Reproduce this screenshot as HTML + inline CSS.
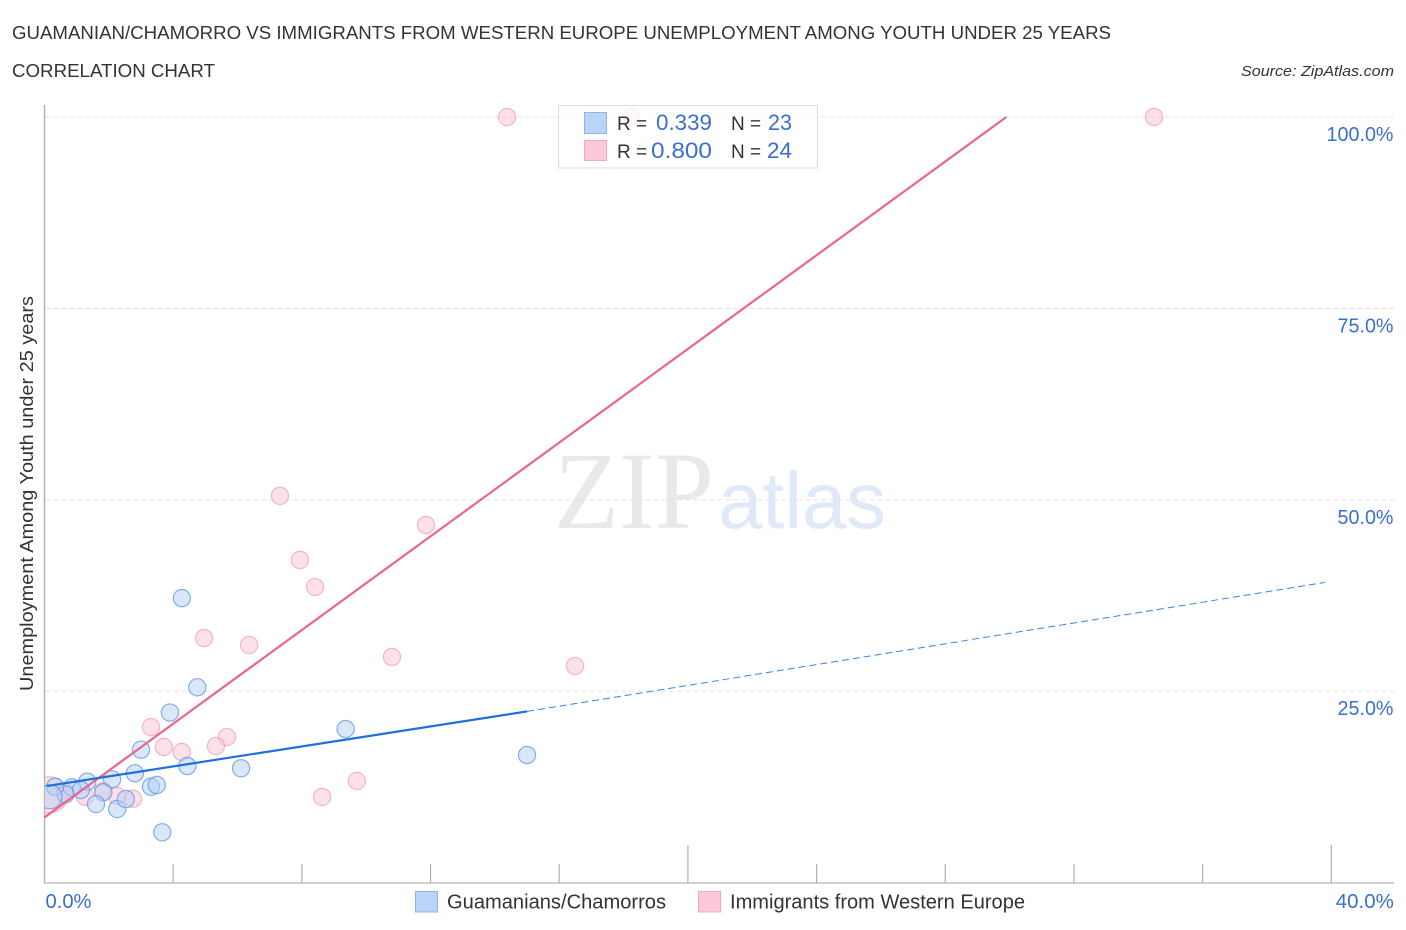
<!DOCTYPE html>
<html lang="en">
<head>
<meta charset="utf-8">
<title>Guamanian/Chamorro vs Immigrants from Western Europe Unemployment Among Youth Under 25 Years</title>
<style>
html,body{margin:0;padding:0;background:#fff;width:1406px;height:930px;overflow:hidden}
svg{display:block;font-family:"Liberation Sans",sans-serif}
</style>
</head>
<body>
<svg id="chart" width="1406" height="930" viewBox="0 0 1406 930" xmlns="http://www.w3.org/2000/svg">
  <defs>
    <clipPath id="plot-clip"><rect x="44.5" y="100" width="1350" height="783"/></clipPath>
  </defs>
  <text x="12" y="39" font-size="18" fill="#333" textLength="1099" lengthAdjust="spacingAndGlyphs">GUAMANIAN/CHAMORRO VS IMMIGRANTS FROM WESTERN EUROPE UNEMPLOYMENT AMONG YOUTH UNDER 25 YEARS</text>
  <text x="12" y="77" font-size="18" fill="#333" textLength="203" lengthAdjust="spacingAndGlyphs">CORRELATION CHART</text>
  <text x="1394" y="76" font-size="15" font-style="italic" fill="#333" text-anchor="end" textLength="153" lengthAdjust="spacingAndGlyphs">Source: ZipAtlas.com</text>

  <g>
    <text x="554" y="528" font-family="'Liberation Serif',serif" font-size="110" fill="#e9e9e9" textLength="160" lengthAdjust="spacingAndGlyphs">ZIP</text>
    <text x="718" y="528" font-family="'Liberation Sans',sans-serif" font-size="80" fill="#dfe9f8" textLength="168" lengthAdjust="spacingAndGlyphs">atlas</text>
  </g>

  <g id="grid"></g>
  <g id="axes"></g>
  <g id="points" clip-path="url(#plot-clip)"></g>
  <g id="trends"></g>
  <g id="labels"></g>

  <text transform="translate(33,493.5) rotate(-90)" font-size="18" fill="#333" text-anchor="middle" textLength="395" lengthAdjust="spacingAndGlyphs">Unemployment Among Youth under 25 years</text>

  <g>
    <rect x="558.5" y="105.5" width="259" height="62.5" fill="#fff" fill-opacity="0.8" stroke="#dcdcdc" stroke-width="1"/>
    <rect x="584.5" y="112.5" width="22" height="21" fill="#b9d4f7" stroke="#8fb3e8" stroke-width="1"/>
    <rect x="584.5" y="140.5" width="22" height="20" fill="#fcc9d8" stroke="#f2a8bf" stroke-width="1"/>
    <text x="617" y="130" font-size="19" fill="#333">R =</text>
    <text x="656" y="130" font-size="22" fill="#3a6fd0" textLength="56" lengthAdjust="spacingAndGlyphs">0.339</text>
    <text x="731" y="130" font-size="19" fill="#333">N =</text>
    <text x="768" y="130" font-size="22" fill="#3a6fd0" textLength="24" lengthAdjust="spacingAndGlyphs">23</text>
    <text x="617" y="158" font-size="19" fill="#333">R =</text>
    <text x="651" y="158" font-size="22" fill="#3a6fd0" textLength="61" lengthAdjust="spacingAndGlyphs">0.800</text>
    <text x="731" y="158" font-size="19" fill="#333">N =</text>
    <text x="767" y="158" font-size="22" fill="#3a6fd0" textLength="25" lengthAdjust="spacingAndGlyphs">24</text>
  </g>

  <g>
    <rect x="415.5" y="891.5" width="22" height="20.5" fill="#b9d4f7" stroke="#8fb3e8" stroke-width="1"/>
    <text x="447" y="908.5" font-size="20" fill="#333" textLength="219" lengthAdjust="spacingAndGlyphs">Guamanians/Chamorros</text>
    <rect x="698.5" y="891.5" width="22" height="20.5" fill="#fcc9d8" stroke="#f2a8bf" stroke-width="1"/>
    <text x="730" y="908.5" font-size="20" fill="#333" textLength="295" lengthAdjust="spacingAndGlyphs">Immigrants from Western Europe</text>
  </g>
</svg>
<script>
// Data, in percent units
const yTickValues = [25, 50, 75, 100];
const yTickLabels = ['25.0%', '50.0%', '75.0%', '100.0%'];
const xTickValues = [4, 8, 12, 16, 20, 24, 28, 32, 36, 40];
const xMajorTicks = [20, 40];
const xEdgeValues = [0, 40];
const xEdgeLabels = ['0.0%', '40.0%'];

const blueX = [4.75, 3.90, 3.00, 2.81, 2.10, 1.33, 0.85, 1.13, 0.65, 0.33, 0.17, 1.83, 1.60, 2.26, 2.53, 3.31, 3.49, 3.66, 4.44, 6.11, 9.36, 4.27, 15.0];
const blueY = [25.5, 22.2, 17.35, 14.27, 13.48, 13.17, 12.44, 12.08, 11.52, 12.51, 11.2, 11.78, 10.25, 9.6, 10.9, 12.51, 12.74, 6.56, 15.22, 14.92, 20.05, 37.15, 16.65];
const blueWeight = [1, 1, 1, 1, 1, 1, 1, 1, 1, 1, 1.4, 1, 1, 1, 1, 1, 1, 1, 1, 1, 1, 1, 1];

const pinkX = [14.38, 18.23, 34.49, 7.32, 11.86, 7.94, 8.41, 4.96, 6.36, 10.80, 16.49, 3.31, 5.67, 5.33, 4.27, 3.71, 9.71, 8.63, 2.75, 1.26, 2.25, 1.82, 0.64, 0.17];
const pinkY = [100, 100, 100, 50.5, 46.7, 42.13, 38.6, 31.94, 31.03, 29.46, 28.28, 20.31, 19.0, 17.83, 17.05, 17.7, 13.26, 11.17, 10.94, 11.2, 11.3, 11.95, 11.82, 11.45];
const pinkWeight = [1, 1, 1, 1, 1, 1, 1, 1, 1, 1, 1, 1, 1, 1, 1, 1, 1, 1, 1, 1, 1, 1, 1, 2.1];

// Trend lines: [start, end] in percent units
const blueTrendSolidX = [0.07, 15.0];
const blueTrendSolidY = [12.6, 22.35];
const blueTrendDashX = [15.0, 39.8];
const blueTrendDashY = [22.35, 39.2];
const pinkTrendX = [0, 29.9];
const pinkTrendY = [8.5, 100];

const NS = 'http://www.w3.org/2000/svg';
function xScale(v) { return 44.5 + v * 32.17; }
function yScale(v) { return 882.5 - v * 7.655; }
function mk(tag, attrs, parent) {
  const el = document.createElementNS(NS, tag);
  for (const k in attrs) el.setAttribute(k, attrs[k]);
  parent.appendChild(el);
  return el;
}

const grid = document.getElementById('grid');
const axes = document.getElementById('axes');
const labels = document.getElementById('labels');
const trends = document.getElementById('trends');
const points = document.getElementById('points');

yTickValues.forEach(function (v, i) {
  const line = mk('line', {x1: 45, x2: 1394, y1: yScale(v), y2: yScale(v), stroke: '#e3e3e3', 'stroke-width': 1, 'stroke-dasharray': '5 3'}, grid);
  
  
  const t = mk('text', {x: 1393.5, y: yScale(v) + 24, 'font-size': 20, fill: '#3a6fd0', 'text-anchor': 'end', textLength: yTickLabels[i].length === 6 ? 67 : 56, lengthAdjust: 'spacingAndGlyphs'}, labels);
  t.textContent = yTickLabels[i];
  
  
});

const yAxis = mk('line', {x1: 44.5, x2: 44.5, y1: 105, y2: 883.5, stroke: '#b0b0b0', 'stroke-width': 1.4}, axes);


const xAxis = mk('line', {x1: 44, x2: 1394, y1: 883, y2: 883, stroke: '#c0c0c0', 'stroke-width': 1.6}, axes);



xTickValues.forEach(function (v) {
  const isMajor = xMajorTicks.indexOf(v) >= 0;
  const tick = mk('line', {x1: xScale(v), x2: xScale(v), y1: isMajor ? 845 : 864, y2: 883, stroke: '#b0b0b0', 'stroke-width': 1.2}, axes);
  
  
});

xEdgeValues.forEach(function (v, i) {
  const t = mk('text', {x: i === 0 ? xScale(v) + 1 : xScale(v) + 62.5, y: 908, 'font-size': 20, fill: '#3a6fd0', 'text-anchor': i === 0 ? 'start' : 'end', textLength: i === 0 ? 46 : 58, lengthAdjust: 'spacingAndGlyphs'}, labels);
  t.textContent = xEdgeLabels[i];
  
  
});

function drawPoints(xs, ys, ws, fill, stroke, name) {
  xs.forEach(function (x, i) {
    const c = mk('circle', {cx: xScale(x), cy: yScale(ys[i]), r: 8.6 * ws[i], fill: fill, 'fill-opacity': 0.5, stroke: stroke, 'stroke-opacity': 0.75, 'stroke-width': 1.2}, points);
    
    
  });
}
drawPoints(pinkX, pinkY, pinkWeight, '#fbc4d4', '#f0a0b8', 'point-immigrants');
drawPoints(blueX, blueY, blueWeight, '#b4d0f4', '#5f95e2', 'point-guamanians');

const pinkTrend = mk('line', {x1: xScale(pinkTrendX[0]), y1: yScale(pinkTrendY[0]), x2: xScale(pinkTrendX[1]), y2: yScale(pinkTrendY[1]), stroke: '#e8668f', 'stroke-width': 2.2}, trends);


const blueSolid = mk('line', {x1: xScale(blueTrendSolidX[0]), y1: yScale(blueTrendSolidY[0]), x2: xScale(blueTrendSolidX[1]), y2: yScale(blueTrendSolidY[1]), stroke: '#1f6fdc', 'stroke-width': 2.2}, trends);


const blueDash = mk('line', {x1: xScale(blueTrendDashX[0]), y1: yScale(blueTrendDashY[0]), x2: xScale(blueTrendDashX[1]), y2: yScale(blueTrendDashY[1]), stroke: '#3f82e0', 'stroke-width': 1, 'stroke-dasharray': '7 4'}, trends);


</script>
</body>
</html>
